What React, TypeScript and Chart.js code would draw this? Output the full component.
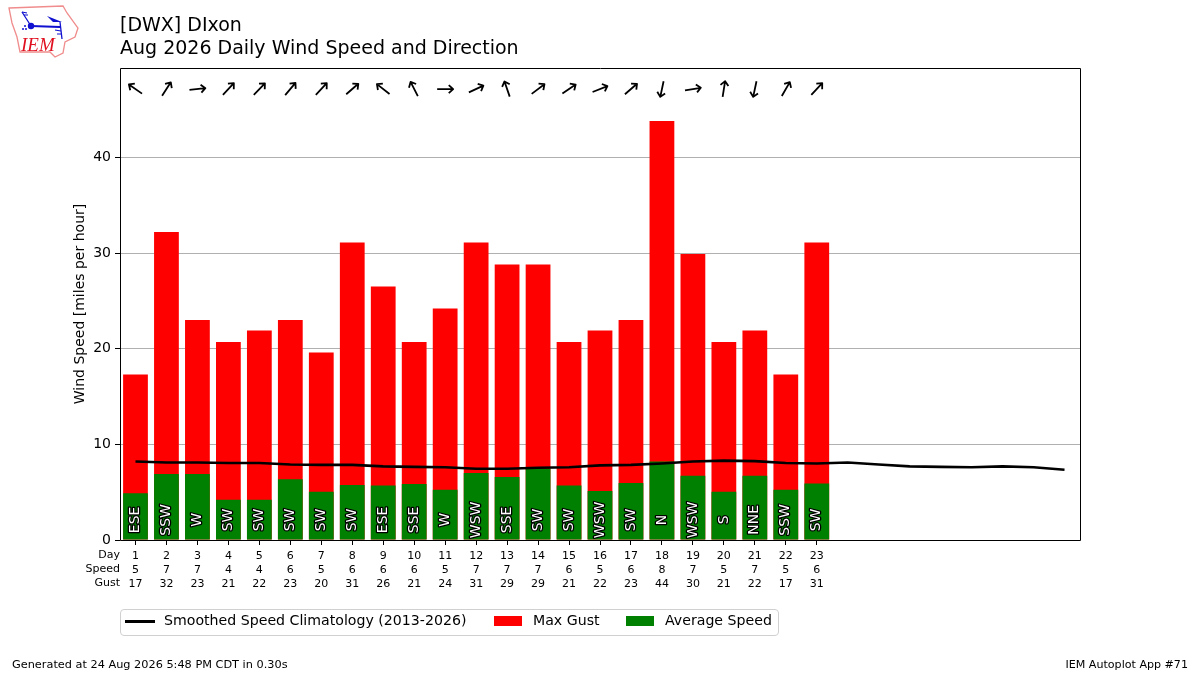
import { useEffect, useRef } from 'react'
import Chart from 'chart.js/auto'

const FONT = '"DejaVu Sans"'

const days = Array.from({ length: 31 }, (_, i) => String(i + 1))
const maxGust = [17.3, 32.2, 23, 20.7, 21.9, 23, 19.6, 31.1, 26.5, 20.7, 24.2, 31.1, 28.8, 28.8, 20.7, 21.9, 23, 43.8, 29.9, 20.7, 21.9, 17.3, 31.1]
const avgSpeed = [4.9, 6.9, 6.9, 4.2, 4.2, 6.35, 5.05, 5.75, 5.7, 5.86, 5.26, 7.0, 6.6, 7.43, 5.7, 5.13, 5.96, 8.2, 6.73, 5.05, 6.73, 5.26, 5.9]
const climatology = [8.2, 8.1, 8.1, 8.05, 8.05, 7.9, 7.85, 7.85, 7.7, 7.65, 7.6, 7.45, 7.45, 7.55, 7.6, 7.8, 7.85, 8.0, 8.2, 8.3, 8.25, 8.05, 8.0, 8.1, 7.9, 7.7, 7.65, 7.6, 7.7, 7.6, 7.35]
const directions = ['ESE', 'SSW', 'W', 'SW', 'SW', 'SW', 'SW', 'SW', 'ESE', 'SSE', 'W', 'WSW', 'SSE', 'SW', 'SW', 'WSW', 'SW', 'N', 'WSW', 'S', 'NNE', 'SSW', 'SW']
// compass bearing each arrow points to, degrees
const arrowBearings = [305, 33, 84, 43, 44, 40, 43, 49, 308, 333, 90, 65, 341, 53, 56, 68, 49, 192, 81, 9, 192, 30, 43]
const speedLabels = ['5', '7', '7', '4', '4', '6', '5', '6', '6', '6', '5', '7', '7', '7', '6', '5', '6', '8', '7', '5', '7', '5', '6']
const gustLabels = ['17', '32', '23', '21', '22', '23', '20', '31', '26', '21', '24', '31', '29', '29', '21', '22', '23', '44', '30', '21', '22', '17', '31']
const rowNames = ['Day', 'Speed', 'Gust']

// direction labels, arrows, row names and the axes frame
const overlayPlugin = {
  id: 'overlay',
  afterDatasetsDraw(chart: any) {
    const { ctx, chartArea, scales } = chart
    const { x, y } = scales
    ctx.save()

    ctx.font = `14px ${FONT}`
    ctx.textAlign = 'center'
    ctx.textBaseline = 'middle'
    ctx.lineJoin = 'round'
    directions.forEach((d, i) => {
      ctx.save()
      ctx.translate(x.getPixelForValue(i), y.getPixelForValue(2.1))
      ctx.rotate(-Math.PI / 2)
      ctx.strokeStyle = '#000'
      ctx.lineWidth = 2.5
      ctx.strokeText(d, 0, 0)
      ctx.fillStyle = '#fff'
      ctx.fillText(d, 0, 0)
      ctx.restore()
    })

    ctx.strokeStyle = '#000'
    ctx.lineWidth = 1.8
    ctx.lineCap = 'butt'
    arrowBearings.forEach((b, i) => {
      ctx.save()
      ctx.translate(x.getPixelForValue(i), y.getPixelForValue(47.15))
      ctx.rotate((b * Math.PI) / 180)
      ctx.beginPath()
      ctx.moveTo(0, 8)
      ctx.lineTo(0, -8)
      ctx.moveTo(-4, -3.6)
      ctx.lineTo(0, -8)
      ctx.lineTo(4, -3.6)
      ctx.stroke()
      ctx.restore()
    })

    ctx.fillStyle = '#000'
    ctx.font = `11px ${FONT}`
    ctx.textAlign = 'right'
    rowNames.forEach((r, i) => ctx.fillText(r, 120, 555.5 + i * 14))

    ctx.strokeStyle = '#000'
    ctx.lineWidth = 1
    ctx.strokeRect(chartArea.left + 0.5, chartArea.top + 0.5, chartArea.right - chartArea.left, chartArea.bottom - chartArea.top)
    ctx.restore()
  },
}

const legendItems = [
  { label: 'Smoothed Speed Climatology (2013-2026)', color: '#000', line: true, swatchX: 5, textX: 44 },
  { label: 'Max Gust', color: '#ff0000', line: false, swatchX: 374, textX: 413 },
  { label: 'Average Speed', color: '#008000', line: false, swatchX: 506, textX: 545 },
]

const IemLogo = () => (
  <svg width={90} height={65} viewBox="0 0 90 65" style={{ position: 'absolute', left: 0, top: 0 }}>
    <path d="M9 8 L63 6 L67 13 L78 28 L75 37 L65 42 L63 53 L55 57 L50 52 L20 52 L17 37 L12 23 Z" fill="#fff" stroke="#f08c8c" strokeWidth={1.3} />
    <g stroke="#1010d0" fill="none">
      <path d="M31 26 L60 27" strokeWidth={2} />
      <path d="M22 12 L31 26 M60 22 L62 39" strokeWidth={1.3} />
      <path d="M22 12 L27 13 M24 15 L28 15 M55 30 L61 31 M57 34 L62 34" strokeWidth={1.2} />
    </g>
    <circle cx={31} cy={26} r={3.2} fill="#1010d0" />
    <path d="M47 16 L62 22 L53 22 Z" fill="#1010d0" />
    <circle cx={25} cy={26} r={1} fill="#1010d0" />
    <circle cx={23} cy={29} r={1} fill="#1010d0" />
    <circle cx={26} cy={29} r={1} fill="#1010d0" />
    <text x={21} y={51} fontFamily="Liberation Serif" fontStyle="italic" fontSize={19} fill="#e01020">IEM</text>
  </svg>
)

const App = () => {
  const canvasRef = useRef<HTMLCanvasElement>(null)

  useEffect(() => {
    if (!canvasRef.current) return
    Chart.defaults.font.family = FONT
    Chart.defaults.color = '#000'

    const chart = new Chart(canvasRef.current, {
      type: 'bar',
      data: {
        labels: days,
        datasets: [
          { type: 'line', label: 'Smoothed Speed Climatology (2013-2026)', data: climatology, borderColor: '#000', borderWidth: 2.6, pointRadius: 0, tension: 0, order: 0 },
          { label: 'Average Speed', data: avgSpeed, backgroundColor: '#008000', barPercentage: 0.8, categoryPercentage: 1, order: 1 },
          { label: 'Max Gust', data: maxGust, backgroundColor: '#ff0000', barPercentage: 0.8, categoryPercentage: 1, order: 2 },
        ] as any,
      },
      options: {
        animation: false,
        responsive: false,
        devicePixelRatio: 1,
        layout: { padding: { left: 0, top: 68, right: 120, bottom: 0 } },
        plugins: { legend: { display: false }, tooltip: { enabled: false } },
        scales: {
          x: {
            stacked: true,
            afterFit: (s: any) => { s.height = 135 },
            border: { display: false },
            grid: {
              offset: false,
              drawOnChartArea: false,
              tickLength: 5,
              tickColor: (c: any) => (c.index < maxGust.length ? '#000' : 'rgba(0,0,0,0)'),
            },
            ticks: {
              autoSkip: false,
              maxRotation: 0,
              padding: 4,
              font: { size: 11, lineHeight: 14 / 11 },
              callback: (_v: any, i: number) => (i < maxGust.length ? [days[i], speedLabels[i], gustLabels[i]] : ''),
            },
          },
          y: {
            min: 0,
            max: 49.35,
            afterFit: (s: any) => { s.width = 120 },
            border: { display: false },
            title: { display: true, text: 'Wind Speed [miles per hour]', font: { size: 14 }, padding: { top: 72, bottom: 0 } },
            grid: { color: '#b0b0b0', lineWidth: 1, tickLength: 5, tickColor: '#000' },
            ticks: { stepSize: 10, includeBounds: false, padding: 4, font: { size: 14 } },
          },
        },
      },
      plugins: [overlayPlugin],
    } as any)

    return () => chart.destroy()
  }, [])

  return (
    <div style={{ position: 'fixed', left: 0, top: 0, width: 1200, height: 675, background: '#fff', fontFamily: FONT, color: '#000', overflow: 'hidden' }}>
      <canvas ref={canvasRef} width={1200} height={675} style={{ position: 'absolute', left: 0, top: 0 }} />
      <IemLogo />
      <div style={{ position: 'absolute', left: 120, top: 13, fontSize: 19, lineHeight: '23px', whiteSpace: 'nowrap' }}>
        <div>[DWX] DIxon</div>
        <div>Aug 2026 Daily Wind Speed and Direction</div>
      </div>
      <div style={{ position: 'absolute', left: 120, top: 609, width: 659, height: 27, boxSizing: 'border-box', border: '1px solid #d0d0d0', borderRadius: 4, fontSize: 14.15, whiteSpace: 'nowrap' }}>
        {legendItems.map(item => (
          <div key={item.label}>
            <span style={{ position: 'absolute', left: item.swatchX - 1, top: item.line ? 10 : 6, width: item.line ? 30 : 28, height: item.line ? 3 : 10, background: item.color }} />
            <span style={{ position: 'absolute', left: item.textX - 1, top: 2 }}>{item.label}</span>
          </div>
        ))}
      </div>
      <div style={{ position: 'absolute', left: 12, top: 658, fontSize: 11.3, whiteSpace: 'nowrap' }}>Generated at 24 Aug 2026 5:48 PM CDT in 0.30s</div>
      <div style={{ position: 'absolute', right: 12, top: 658, fontSize: 11.1, whiteSpace: 'nowrap' }}>IEM Autoplot App #71</div>
    </div>
  )
}

export default App
